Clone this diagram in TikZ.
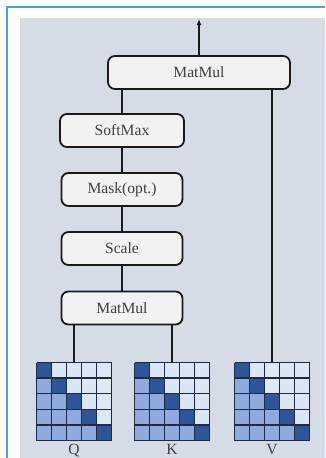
\documentclass[tikz,border=0pt]{standalone}
\usepackage{fontspec}
\setmainfont{Liberation Serif}
\usetikzlibrary{arrows.meta}
\definecolor{bggray}{HTML}{D6DCE5}
\definecolor{framebl}{HTML}{5B9BD5}
\definecolor{boxfill}{HTML}{F2F2F2}
\definecolor{cdark}{HTML}{2F5597}
\definecolor{cmid}{HTML}{8FAADC}
\definecolor{clight}{HTML}{DDE6F5}
\definecolor{gridln}{HTML}{1F2A44}
\definecolor{txt}{HTML}{3F3F3F}
\definecolor{wirec}{HTML}{1A1A1A}
\begin{document}
\begin{tikzpicture}[x=1pt,y=-1pt,
  opbox/.style={draw=wirec, line width=1.8pt, fill=boxfill, rounded corners=7pt,
    minimum height=33pt, inner sep=0pt, text=txt, font=\fontsize{15.6}{18}\selectfont},
  wire/.style={draw=wirec, line width=1.8pt},
  matbox/.style={minimum width=75pt, minimum height=78pt, inner sep=0pt, outer sep=0pt},
  lbl/.style={text=txt, font=\fontsize{15.6}{18}\selectfont, inner sep=0pt}]
\useasboundingbox (0,0) rectangle (325,458);
\fill[white] (0,0) rectangle (325,458);
\fill[bggray] (20,18) rectangle (325,458);
\draw[framebl, line width=1.5pt] (7,458) -- (7,7) -- (325,7);

% operation blocks
\node[opbox, minimum width=182pt] (mmtop) at (199,72.5) {MatMul};
\node[opbox, minimum width=124pt] (sm) at (122,130.5) {SoftMax};
\node[opbox, minimum width=121pt] (mask) at (122,189.5) {Mask(opt.)};
\node[opbox, minimum width=121pt] (scale) at (122,248.5) {Scale};
\node[opbox, minimum width=121pt] (mmlow) at (122,308) {MatMul};

% input matrices: 5x5, dark diagonal, mid-blue below, pale above
\node[matbox] (Q) at (74,401.5) {};
\node[matbox] (K) at (172,401.5) {};
\node[matbox] (V) at (272,401.5) {};
\foreach \m in {Q,K,V}{
  \begin{scope}[shift={(\m.north west)}]
    \foreach \r in {0,...,4}{
      \foreach \c in {0,...,4}{
        \ifnum\c<\r \def\cc{cmid}\else\ifnum\c=\r \def\cc{cdark}\else\def\cc{clight}\fi\fi
        \fill[\cc] (\c*15,\r*15.6) rectangle ++(15,15.6);
      }
    }
    \foreach \i in {0,...,5}{
      \draw[gridln, line width=1.3pt] (\i*15,0) -- (\i*15,78);
      \draw[gridln, line width=1.3pt] (0,\i*15.6) -- (75,\i*15.6);
    }
  \end{scope}
}
\node[lbl, anchor=base] (ql) at ([yshift=-13.5pt]Q.south) {Q};
\node[lbl, anchor=base] (kl) at ([yshift=-13.5pt]K.south) {K};
\node[lbl, anchor=base] (vl) at ([yshift=-13.5pt]V.south) {V};

% connections
\coordinate (out) at (199,19);
\draw[wire, -{Latex[length=6pt,width=5pt]}] (mmtop.north) -- (out);
\draw[wire] (mmtop.south -| sm.north) -- (sm.north);
\draw[wire] (sm) -- (mask);
\draw[wire] (mask) -- (scale);
\draw[wire] (scale) -- (mmlow);
\draw[wire] (mmlow.south -| Q.north) -- (Q.north);
\draw[wire] (mmlow.south -| K.north) -- (K.north);
\draw[wire] (mmtop.south -| V.north) -- (V.north);
\end{tikzpicture}
\end{document}
